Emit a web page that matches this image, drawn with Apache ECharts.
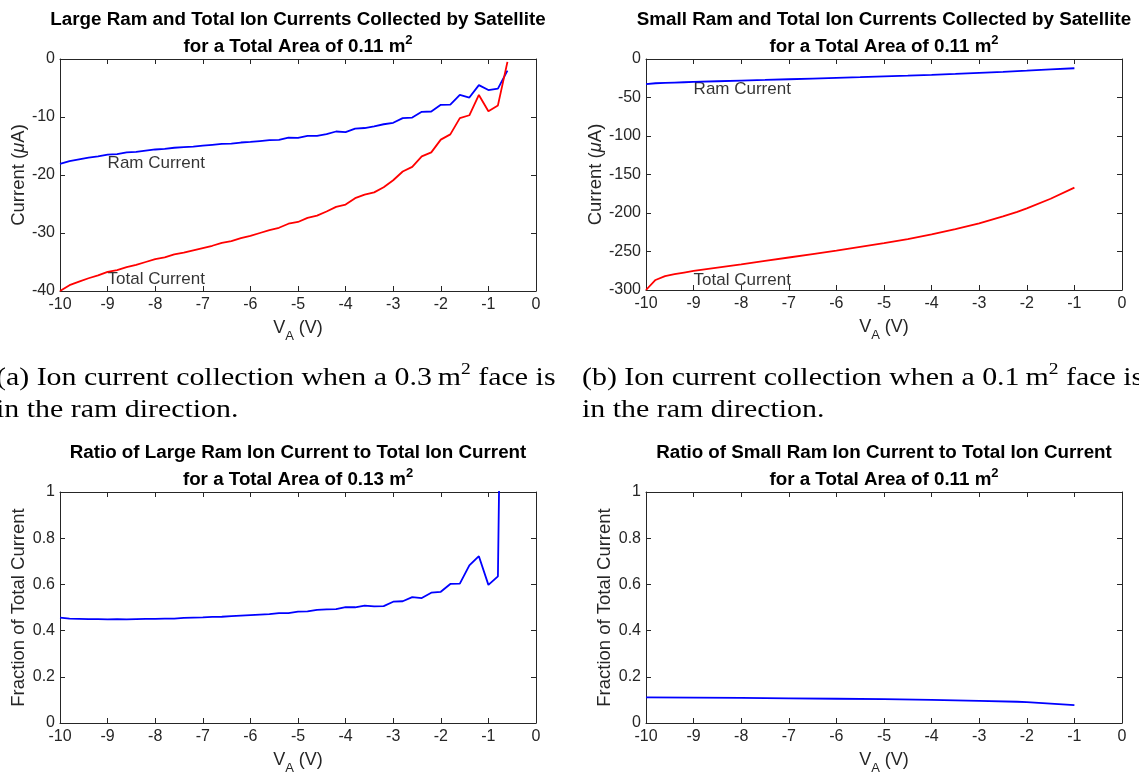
<!DOCTYPE html>
<html>
<head>
<meta charset="utf-8">
<script src="https://cdn.jsdelivr.net/npm/echarts@6/dist/echarts.min.js"></script>
<style>
  html, body { margin: 0; padding: 0; background: #fff; }
  #chart { width: 1139px; height: 777px; }
</style>
</head>
<body>
<div id="chart"></div>
<script>
// Applied voltage samples (V) for the large-face runs
const voltsLarge = [-10, -9.8, -9.6, -9.4, -9.2, -9.0, -8.8, -8.6, -8.4, -8.2,
  -8.0, -7.8, -7.6, -7.4, -7.2, -7.0, -6.8, -6.6, -6.4, -6.2,
  -6.0, -5.8, -5.6, -5.4, -5.2, -5.0, -4.8, -4.6, -4.4, -4.2,
  -4.0, -3.8, -3.6, -3.4, -3.2, -3.0, -2.8, -2.6, -2.4, -2.2,
  -2.0, -1.8, -1.6, -1.4, -1.2, -1.0, -0.8, -0.6];

// Ram and total ion current (uA), 0.3 m^2 face in the ram direction
const largeRamCurrent = [-18.1, -17.6, -17.3, -17.0, -16.8, -16.5, -16.4, -16.1, -16.0, -15.8,
  -15.6, -15.5, -15.3, -15.2, -15.1, -14.95, -14.8, -14.65, -14.6, -14.4,
  -14.3, -14.15, -14.0, -13.95, -13.55, -13.6, -13.25, -13.25, -12.95, -12.5,
  -12.6, -12.0, -11.9, -11.6, -11.25, -11.0, -10.2, -10.1, -9.1, -9.05,
  -7.9, -7.85, -6.2, -6.65, -4.5, -5.35, -5.1, -2.0];
const largeTotalCurrent = [-40.0, -39.0, -38.4, -37.8, -37.3, -36.7, -36.4, -35.9, -35.5, -35.0,
  -34.5, -34.2, -33.7, -33.4, -33.0, -32.6, -32.2, -31.7, -31.4, -30.9,
  -30.5, -30.0, -29.5, -29.1, -28.4, -28.1, -27.4, -27.0, -26.3, -25.5,
  -25.1, -24.0, -23.4, -23.0, -22.1, -20.9, -19.4, -18.6, -16.8, -16.1,
  -13.9, -13.0, -10.2, -9.7, -6.2, -9.0, -8.0, -0.5];

// Ram share of the total current, large face
const largeRamFraction = [0.456, 0.452, 0.451, 0.450, 0.450, 0.449, 0.450, 0.449, 0.450, 0.451,
  0.451, 0.452, 0.452, 0.455, 0.456, 0.457, 0.459, 0.460, 0.463, 0.465,
  0.467, 0.469, 0.471, 0.476, 0.476, 0.482, 0.483, 0.490, 0.492, 0.493,
  0.502, 0.501, 0.508, 0.505, 0.506, 0.525, 0.527, 0.545, 0.541, 0.564,
  0.568, 0.602, 0.603, 0.682, 0.722, 0.598, 0.635, 3.8];

// Applied voltage samples (V) for the small-face runs
const voltsSmall = [-10, -9.8, -9.6, -9.4, -9.2, -9.0, -8.5, -8.0, -7.5, -7.0,
  -6.5, -6.0, -5.5, -5.0, -4.5, -4.0, -3.5, -3.0, -2.5, -2.2, -2.0, -1.5, -1.0];

// Ram and total ion current (uA), 0.1 m^2 face in the ram direction
const smallRamCurrent = [-32.5, -31.5, -31.0, -30.6, -30.2, -29.8, -28.9, -28.0, -27.2, -26.3,
  -25.4, -24.5, -23.6, -22.6, -21.6, -20.5, -19.3, -18.0, -16.7, -15.8, -15.2, -13.6, -12.0];
const smallTotalCurrent = [-300, -287, -282, -279.5, -277.3, -275.3, -271, -266.8, -262.3, -257.8,
  -253.3, -248.8, -244, -239.2, -233.8, -227.8, -221, -213.5, -204.5, -198.5, -194, -181.5, -167];

// Ram share of the total current, small face
const voltsSmallFraction = [-10, -9, -8, -7, -6, -5, -4, -3, -2.2, -2, -1.5, -1];
const smallRamFraction = [0.111, 0.110, 0.109, 0.107, 0.105, 0.103, 0.100, 0.096, 0.092, 0.090, 0.084, 0.077];

// Panel titles: first line, total area (m^2)
const panelTitles = [
  ['Large Ram and Total Ion Currents Collected by Satellite', '0.11'],
  ['Small Ram and Total Ion Currents Collected by Satellite', '0.11'],
  ['Ratio of Large Ram Ion Current to Total Ion Current', '0.13'],
  ['Ratio of Small Ram Ion Current to Total Ion Current', '0.11']
];
const yAxisNames = ['Current ({i|\u03bc}A)', 'Current ({i|\u03bc}A)', 'Fraction of Total Current', 'Fraction of Total Current'];
const captionLines = [
  ['(a) Ion current collection when a ', '0.3', ' face is', 'in the ram direction.'],
  ['(b) Ion current collection when a ', '0.1', ' face is', 'in the ram direction.']
];

const FONT = '"Liberation Sans", Arial, Helvetica, sans-serif';
const SERIF = '"Liberation Serif", "Times New Roman", serif';
const INK = '#262626';

const grids = [
  { left: 60, top: 59, width: 476, height: 232 },
  { left: 646, top: 59, width: 476, height: 231 },
  { left: 60, top: 492, width: 476, height: 231 },
  { left: 646, top: 492, width: 476, height: 231 }
];
const yRanges = [[-40, 0, 10], [-300, 0, 50], [0, 1, 0.2], [0, 1, 0.2]];
const yNameGaps = [30, 36, 28, 27];

const axisLine = { show: true, onZero: false, lineStyle: { color: INK, width: 1 } };
const axisTick = { show: true, inside: true, length: 5, lineStyle: { color: INK, width: 1 } };
const tickFont = { color: INK, fontSize: 16, fontFamily: FONT };

const xAxes = [];
const yAxes = [];
grids.forEach((g, i) => {
  xAxes.push({
    type: 'value', gridIndex: i, position: 'bottom', min: -10, max: 0, interval: 1,
    axisLine, axisTick, splitLine: { show: false },
    axisLabel: Object.assign({ margin: 6 }, tickFont),
    name: '{v|V}{s|A}{v| (V)}', nameLocation: 'middle', nameGap: 22,
    nameTextStyle: {
      rich: {
        v: { fontSize: 18, fontFamily: FONT, color: INK, lineHeight: 30, verticalAlign: 'middle' },
        s: { fontSize: 13, fontFamily: FONT, color: INK, lineHeight: 12, verticalAlign: 'bottom' }
      }
    }
  });
  xAxes.push({
    type: 'value', gridIndex: i, position: 'top', min: -10, max: 0, interval: 1,
    axisLine, axisTick, splitLine: { show: false }, axisLabel: { show: false }
  });
  const r = yRanges[i];
  yAxes.push({
    type: 'value', gridIndex: i, position: 'left', min: r[0], max: r[1], interval: r[2],
    axisLine, axisTick, splitLine: { show: false },
    axisLabel: Object.assign({ margin: 5 }, tickFont),
    name: yAxisNames[i], nameLocation: 'middle', nameGap: yNameGaps[i],
    nameTextStyle: {
      fontSize: 18.5, fontFamily: FONT, color: INK,
      rich: { i: { fontSize: 18.5, fontFamily: FONT, color: INK, fontStyle: 'italic' } }
    }
  });
  yAxes.push({
    type: 'value', gridIndex: i, position: 'right', min: r[0], max: r[1], interval: r[2],
    axisLine, axisTick, splitLine: { show: false }, axisLabel: { show: false }
  });
});

const zip = (xs, ys) => xs.map((x, k) => [x, ys[k]]);
const curve = (grid, xs, ys, color) => ({
  type: 'line', xAxisIndex: grid * 2, yAxisIndex: grid * 2,
  data: zip(xs, ys), showSymbol: false, symbol: 'none', clip: true,
  lineStyle: { color, width: 1.8 }, itemStyle: { color }, silent: true
});
const note = (grid, text, at) => ({
  type: 'scatter', xAxisIndex: grid * 2, yAxisIndex: grid * 2,
  data: [at], symbolSize: 0, silent: true,
  label: { show: true, position: 'right', distance: 0, formatter: text, color: '#000', fontSize: 17, fontFamily: FONT }
});

const series = [
  curve(0, voltsLarge, largeRamCurrent, '#0000ff'),
  curve(0, voltsLarge, largeTotalCurrent, '#ff0000'),
  curve(1, voltsSmall, smallRamCurrent, '#0000ff'),
  curve(1, voltsSmall, smallTotalCurrent, '#ff0000'),
  curve(2, voltsLarge, largeRamFraction, '#0000ff'),
  curve(3, voltsSmallFraction, smallRamFraction, '#0000ff'),
  note(0, 'Ram Current', [-9, -18]),
  note(0, 'Total Current', [-9, -37.9]),
  note(1, 'Ram Current', [-9, -40]),
  note(1, 'Total Current', [-9, -287])
];

const titleTop = [6, 6, 439, 439];
const title = panelTitles.map((t, i) => ({
  text: '{b|' + t[0] + '}\n{b|for a Total Area of ' + t[1] + ' m}{sup|2}',
  left: grids[i].left + grids[i].width / 2, top: titleTop[i], textAlign: 'center',
  padding: 0,
  textStyle: {
    rich: {
      b: { fontSize: 18.8, fontWeight: 'bold', fontFamily: FONT, color: '#000', lineHeight: 27.5, align: 'center' },
      sup: { fontSize: 13, fontWeight: 'bold', fontFamily: FONT, color: '#000', lineHeight: 13, verticalAlign: 'top', align: 'center' }
    }
  }
}));

const captionX = [-4, 582];
const graphic = [];
captionLines.forEach((c, i) => {
  graphic.push({
    type: 'text', x: captionX[i], y: 378, scaleX: 1.15, silent: true,
    style: {
      text: '{t|' + c[0] + c[1] + '\u2009m}{s|2}{t|' + c[2] + '}',
      textVerticalAlign: 'middle', verticalAlign: 'middle',
      rich: {
        t: { fontSize: 26, fontFamily: SERIF, fill: '#000', color: '#000', lineHeight: 34, verticalAlign: 'middle' },
        s: { fontSize: 17, fontFamily: SERIF, fill: '#000', color: '#000', lineHeight: 16, verticalAlign: 'top' }
      }
    }
  });
  graphic.push({
    type: 'text', x: captionX[i], y: 410, scaleX: 1.15, silent: true,
    style: { text: c[3], font: '26px ' + SERIF, fill: '#000', textVerticalAlign: 'middle', verticalAlign: 'middle' }
  });
});

const chart = echarts.init(document.getElementById('chart'), null, { renderer: 'canvas' });
chart.setOption({
  animation: false,
  backgroundColor: '#fff',
  title,
  grid: grids.map(g => Object.assign({ containLabel: false }, g)),
  xAxis: xAxes,
  yAxis: yAxes,
  series,
  graphic
});
</script>
</body>
</html>
